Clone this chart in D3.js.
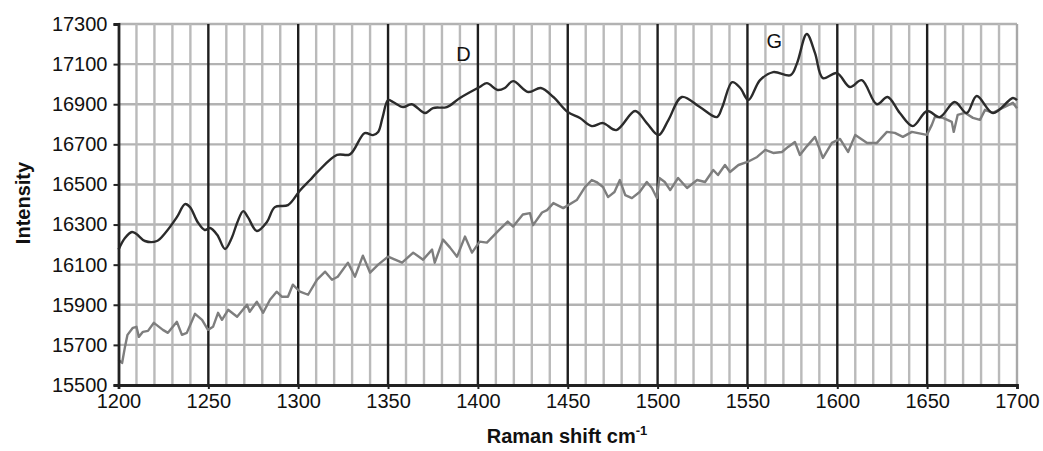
<!DOCTYPE html>
<html>
<head>
<meta charset="utf-8">
<script src="https://cdn.jsdelivr.net/npm/d3@7"></script>
<style>
  body { margin: 0; background: #fff; }
  svg { display: block; }
  text { font-family: "Liberation Sans", Arial, sans-serif; fill: #111; }
</style>
</head>
<body>
<svg id="chart" width="1043" height="451"></svg>
<script>
// Upper (dark) spectrum
const shiftDark = [1200,1203.6,1207.5,1210,1214.7,1221.4,1226,1232.5,1237,1239.8,1244,1248,1251,1255,1259.3,1263,1266,1269.4,1272,1277,1282.6,1287,1294.3,1301,1306.6,1310.5,1321.6,1328.8,1337,1341.6,1344.5,1347,1350,1352.8,1358.4,1363.2,1370.6,1375,1382.7,1390,1401,1405,1411,1415,1419.6,1428,1435,1442,1450,1456.8,1463.4,1469.6,1477,1487.5,1494,1500.5,1506,1513.5,1523.5,1533,1536,1541.5,1546,1550.5,1557,1564.3,1574,1577.6,1583,1587.6,1592,1599.8,1607,1613.6,1622,1628,1634.8,1642,1650,1657,1665.3,1672,1677.6,1686.6,1697.7,1700];
const intensityDark = [16175,16233,16263,16253,16218,16218,16258,16337,16402,16387,16313,16273,16283,16248,16178,16233,16308,16367,16337,16268,16313,16387,16397,16470,16522,16560,16647,16650,16756,16746,16761,16836,16921,16911,16886,16900,16856,16881,16886,16931,16986,17005,16971,16981,17015,16961,16981,16936,16861,16831,16791,16806,16771,16866,16806,16746,16821,16936,16886,16836,16886,17010,16981,16921,17020,17060,17045,17105,17250,17155,17030,17055,16986,17020,16900,16936,16856,16791,16866,16836,16911,16856,16941,16856,16931,16920];

// Lower (grey) spectrum
const shiftGrey = [1200,1202,1203.6,1205,1208,1210,1211.3,1213.6,1216.4,1219.7,1224.7,1227.5,1232.5,1235.3,1238,1242.6,1246.5,1249.8,1252.6,1255.4,1257.6,1261,1266,1271.5,1273,1277,1280.5,1284.3,1288,1291,1294.3,1297,1301,1305.5,1310.5,1315,1318.8,1322,1327.7,1331.6,1336,1340,1344.5,1350,1357.8,1364,1369.5,1374.5,1376,1380.6,1384.5,1388.4,1392.8,1396.7,1401,1405,1412,1416.6,1419.6,1425,1429,1430.7,1435.7,1438.5,1442,1447.5,1455,1459.6,1463.4,1466,1469.6,1472.4,1476,1479,1482,1485.7,1490,1494,1496.8,1499.6,1501,1504,1507,1511.4,1516.4,1522,1526.4,1531,1533.6,1537.5,1540.3,1545,1550,1555.4,1559.9,1564.3,1569.2,1572.6,1576.4,1579.2,1583,1587.6,1592,1597,1601.5,1606,1610,1616.6,1622,1627.6,1632,1636.5,1641.5,1649.8,1652.6,1654.3,1658.8,1663.7,1664.8,1667,1671,1675.5,1679.4,1682.2,1686.6,1692,1697.7,1700];
const intensityGrey = [15625,15610,15690,15750,15785,15790,15740,15765,15770,15810,15775,15760,15815,15750,15760,15855,15825,15775,15790,15860,15825,15875,15840,15900,15865,15915,15860,15925,15965,15940,15940,16000,15965,15950,16025,16065,16025,16040,16110,16040,16145,16060,16100,16140,16110,16160,16125,16175,16110,16225,16185,16140,16240,16160,16215,16210,16275,16315,16290,16350,16357,16297,16360,16372,16407,16382,16422,16487,16522,16512,16487,16437,16462,16522,16447,16432,16462,16512,16482,16432,16532,16512,16472,16532,16482,16522,16512,16572,16547,16597,16562,16597,16612,16637,16672,16657,16662,16687,16712,16647,16690,16737,16632,16707,16727,16662,16747,16707,16707,16762,16757,16737,16762,16747,16797,16837,16832,16812,16762,16847,16857,16832,16822,16872,16857,16882,16907,16880];

const xTicks = [1200,1250,1300,1350,1400,1450,1500,1550,1600,1650,1700];
const xMinor = d3.range(1210, 1700, 10);
const yTicks = [15500,15700,15900,16100,16300,16500,16700,16900,17100,17300];

const peakLabels = ["D", "G"];
const peakShift = [1392, 1565];
const peakIntensity = [17115, 17180];

const svg = d3.select("#chart");
const L = 118.5, R = 1017, T = 24, B = 385;

const x = d3.scaleLinear().domain([1200, 1700]).range([L, R]);
const y = d3.scaleLinear().domain([15500, 17300]).range([B, T]);

const grid = svg.append("g");
// horizontal grid
grid.selectAll("line.h").data(yTicks.slice(1)).join("line")
  .attr("x1", L).attr("x2", R)
  .attr("y1", d => y(d)).attr("y2", d => y(d))
  .attr("stroke", "#b2b2b2").attr("stroke-width", 2.4);
// minor vertical grid
grid.selectAll("line.vm").data(xMinor.filter(v => v % 50 !== 0)).join("line")
  .attr("x1", d => x(d)).attr("x2", d => x(d))
  .attr("y1", T).attr("y2", B)
  .attr("stroke", "#bababa").attr("stroke-width", 2.4);
// right border
grid.append("line").attr("x1", R).attr("x2", R).attr("y1", T).attr("y2", B)
  .attr("stroke", "#a8a8a8").attr("stroke-width", 2.4);
// major vertical grid
grid.selectAll("line.vM").data(xTicks.slice(1, -1)).join("line")
  .attr("x1", d => x(d)).attr("x2", d => x(d))
  .attr("y1", T).attr("y2", B)
  .attr("stroke", "#1e1e1e").attr("stroke-width", 2.4);

// series
const smooth = d3.line().x(d => x(d[0])).y(d => y(d[1])).curve(d3.curveCatmullRom.alpha(0.5));
const jagged = d3.line().x(d => x(d[0])).y(d => y(d[1])).curve(d3.curveLinear);
svg.append("path")
  .datum(d3.zip(shiftGrey, intensityGrey))
  .attr("d", jagged)
  .attr("fill", "none").attr("stroke", "#7e7e7e").attr("stroke-width", 2.4)
  .attr("stroke-linejoin", "round");
svg.append("path")
  .datum(d3.zip(shiftDark, intensityDark))
  .attr("d", smooth)
  .attr("fill", "none").attr("stroke", "#2b2b2b").attr("stroke-width", 2.4);

// axes
const yAxis = d3.axisLeft(y).tickValues(yTicks).tickSize(5).tickPadding(6).tickFormat(d3.format("d"));
const gy = svg.append("g").attr("transform", `translate(${L},0)`).call(yAxis);
gy.select(".domain").attr("stroke", "#222").attr("stroke-width", 2.8);
gy.selectAll(".tick line").attr("stroke", "#222").attr("stroke-width", 2);
gy.selectAll(".tick text").style("font-size", "20px").style("font-family", "Liberation Sans, Arial, sans-serif").attr("fill", "#111");

const xAxis = d3.axisBottom(x).tickValues(xTicks).tickSize(4).tickPadding(5).tickFormat(d3.format("d"));
const gx = svg.append("g").attr("transform", `translate(0,${B})`).call(xAxis);
gx.select(".domain").attr("stroke", "#222").attr("stroke-width", 2.8);
gx.selectAll(".tick line").attr("stroke", "#222").attr("stroke-width", 2);
gx.selectAll(".tick text").style("font-size", "20px").style("font-family", "Liberation Sans, Arial, sans-serif").attr("fill", "#111");

// peak labels
svg.selectAll("text.peak").data(peakLabels).join("text")
  .attr("class", "peak")
  .attr("x", (d, i) => x(peakShift[i])).attr("y", (d, i) => y(peakIntensity[i]))
  .attr("text-anchor", "middle")
  .style("font-size", "20px")
  .text(d => d);

// axis titles
const xt = svg.append("text")
  .attr("x", 567).attr("y", 443)
  .attr("text-anchor", "middle")
  .style("font-size", "20px").style("font-weight", "bold");
xt.append("tspan").text("Raman shift cm");
xt.append("tspan").attr("dy", -8).style("font-size", "13px").text("-1");

svg.append("text")
  .attr("transform", "translate(30,203) rotate(-90)")
  .attr("text-anchor", "middle")
  .style("font-size", "20px").style("font-weight", "bold")
  .text("Intensity");
</script>
</body>
</html>
